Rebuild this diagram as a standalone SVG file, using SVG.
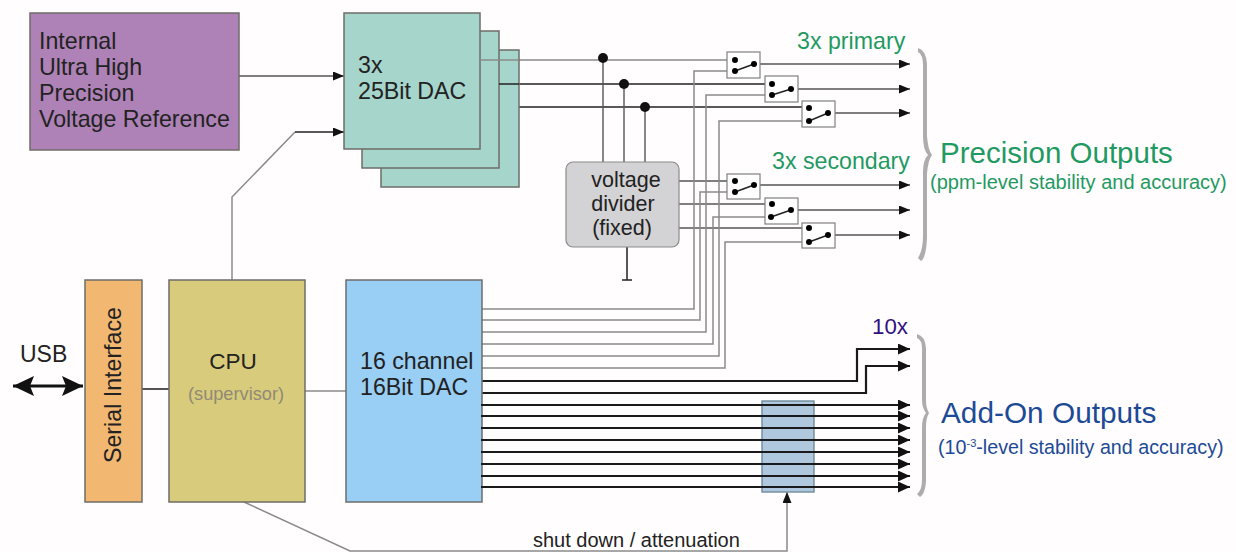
<svg xmlns="http://www.w3.org/2000/svg" width="1236" height="552" viewBox="0 0 1236 552">
<style>
text{font-family:"Liberation Sans",Arial,sans-serif;fill:#222}
.box{stroke:#6f6c68;stroke-width:1.5}
.n{font-size:23.2px}
.sw{fill:#fff;stroke:#808080;stroke-width:1.2}
.w{fill:none;stroke:#555;stroke-width:1.4}
.g{fill:none;stroke:#8a8a8a;stroke-width:1.5}
.k{fill:none;stroke:#222;stroke-width:1.5}
.t{fill:none;stroke:#1a1a1a;stroke-width:2.2}
.a{marker-end:url(#ah)}
.b{marker-end:url(#ah2)}
.gr{fill:#1f9a62}
.bl{fill:#1d4a96}
.br{fill:#adadad;stroke:none}
</style>
<defs>
<marker id="ah" markerUnits="userSpaceOnUse" markerWidth="14" markerHeight="12" refX="11" refY="4.5" orient="auto"><path d="M0 0L11 4.5L0 9Z" fill="#111"/></marker>
<marker id="ah2" markerUnits="userSpaceOnUse" markerWidth="14" markerHeight="14" refX="12" refY="5.5" orient="auto"><path d="M0 0L12 5.5L0 11Z" fill="#111"/></marker>
<marker id="big" markerUnits="userSpaceOnUse" markerWidth="22" markerHeight="22" refX="21" refY="10" orient="auto-start-reverse"><path d="M0 0L21 10L0 20L4 10Z" fill="#111"/></marker>
</defs>
<rect width="1236" height="552" fill="#fffdfe"/>

<g id="connectors">
<path class="w a" d="M239 76H344"/>
<path class="g" d="M232 280V197L295 132"/>
<path class="k a" d="M295 132H344" stroke-width="1.2"/>
<path d="M13 386H83" fill="none" stroke="#111" stroke-width="3.2" marker-start="url(#big)" marker-end="url(#big)"/>
<path d="M142 389H169" fill="none" stroke="#555" stroke-width="2"/>
<path class="g" d="M305 391H346"/>
<path class="g a" d="M244 502L350 551H787V492"/>

<path class="g" d="M480 60H727"/>
<path class="k" d="M499 84H765"/>
<path class="k" d="M519 107H802"/>
<path class="w" d="M603 58V162M624 84V162M645 107V162"/>
<path class="w" d="M679 181H727M679 204H765M679 228H802"/>
<path class="k" d="M627 247V280M622 280H632"/>

<g class="g">
<path d="M481 309H694V71H735"/>
<path d="M481 320H700V192H735"/>
<path d="M481 332H706V95H771"/>
<path d="M481 344H713V217H771"/>
<path d="M481 356H719V121H809"/>
<path d="M481 368H725V242H809"/>
</g>

<path class="w a" d="M754 64H910"/>
<path class="w a" d="M791 89H910"/>
<path class="w a" d="M828 113H910"/>
<path class="w a" d="M754 185H910"/>
<path class="w a" d="M791 210H910"/>
<path class="w a" d="M828 235H910"/>

<path class="t b" d="M481 381H857V349H910"/>
<path class="t b" d="M481 393H866V366H910"/>
</g>

<g id="reference"><rect class="box" x="30" y="13" width="209" height="137" fill="#ae82b6"/>
<text class="n" x="39" y="49">Internal</text><text class="n" x="39" y="75">Ultra High</text><text class="n" x="39" y="101">Precision</text><text class="n" x="39" y="127">Voltage Reference</text></g>

<g id="dac25">
<rect class="box" x="381" y="50" width="138" height="137" fill="#a6d5cc"/>
<rect class="box" x="362" y="31" width="137" height="137" fill="#a6d5cc"/>
<rect class="box" x="344" y="13" width="136" height="136" fill="#a6d5cc"/>
<text class="n" x="358" y="73">3x</text><text class="n" x="358" y="99">25Bit DAC</text></g>

<g id="dac-lines"><path class="g" d="M480 60H519"/><path class="k" d="M499 84H519"/>
<circle cx="603" cy="58" r="5" fill="#111"/><circle cx="624" cy="84" r="5" fill="#111"/><circle cx="645" cy="107" r="5" fill="#111"/></g>

<g id="divider"><rect x="566" y="162" width="113" height="85" rx="7" fill="#d3d2d4" stroke="#8b8b8b" stroke-width="1.2"/>
<text x="626" y="187" font-size="21.5" text-anchor="middle">voltage</text><text x="623" y="211" font-size="21.5" text-anchor="middle">divider</text><text x="622" y="235" font-size="21.5" text-anchor="middle">(fixed)</text></g>

<g id="sw1"><rect class="sw" x="727" y="52" width="33" height="26"/><path class="k" d="M735 71L754 64" stroke-width="1"/><circle cx="735" cy="60" r="3"/><circle cx="735" cy="71" r="3"/><circle cx="754" cy="64" r="3"/></g>
<g id="sw2"><rect class="sw" x="765" y="76" width="33" height="26"/><path class="k" d="M772 95L791 89" stroke-width="1"/><circle cx="772" cy="84" r="3"/><circle cx="772" cy="95" r="3"/><circle cx="791" cy="89" r="3"/></g>
<g id="sw3"><rect class="sw" x="802" y="101" width="33" height="26"/><path class="k" d="M809 121L828 113" stroke-width="1"/><circle cx="809" cy="108" r="3"/><circle cx="809" cy="121" r="3"/><circle cx="828" cy="113" r="3"/></g>
<g id="sw4"><rect class="sw" x="727" y="174" width="33" height="25"/><path class="k" d="M735 192L754 185" stroke-width="1"/><circle cx="735" cy="181" r="3"/><circle cx="735" cy="192" r="3"/><circle cx="754" cy="185" r="3"/></g>
<g id="sw5"><rect class="sw" x="765" y="198" width="33" height="26"/><path class="k" d="M771 217L791 210" stroke-width="1"/><circle cx="772" cy="204" r="3"/><circle cx="771" cy="217" r="3"/><circle cx="791" cy="210" r="3"/></g>
<g id="sw6"><rect class="sw" x="802" y="223" width="33" height="25"/><path class="k" d="M809 242L828 235" stroke-width="1"/><circle cx="809" cy="228" r="3"/><circle cx="809" cy="242" r="3"/><circle cx="828" cy="235" r="3"/></g>

<g id="serial"><rect class="box" x="85" y="280" width="57" height="222" fill="#f2b872"/>
<text class="n" transform="translate(121 463) rotate(-90)">Serial Interface</text></g>
<g id="cpu"><rect class="box" x="169" y="280" width="136" height="222" fill="#d9cb7c"/>
<text x="233" y="369" text-anchor="middle" font-size="22.5">CPU</text><text x="236" y="400" text-anchor="middle" font-size="18.2" style="fill:#8f8a74">(supervisor)</text></g>
<g id="dac16"><rect class="box" x="346" y="280" width="136" height="222" fill="#99cef5"/>
<text class="n" x="360" y="369">16 channel</text><text class="n" x="360" y="395">16Bit DAC</text></g>

<g id="attenuator"><rect x="762" y="401" width="52" height="91" fill="#b0c8de" stroke="#6f8a9c" stroke-width="1.4"/></g>
<g id="addon-lines">
<path class="t b" d="M481 405H910"/><path class="t b" d="M481 416H910"/><path class="t b" d="M481 428H910"/><path class="t b" d="M481 440H910"/><path class="t b" d="M481 452H910"/><path class="t b" d="M481 464H910"/><path class="t b" d="M481 476H910"/><path class="t b" d="M481 487H910"/>
</g>

<g id="braces">
<path class="br" d="M918 48Q926 50 927 64V136Q928 150 932 155Q928 160 927 174V238Q926 258 921 261L918 258Q923 250 923 236V172Q923 160 928 155Q923 150 923 136V66Q923 54 918 52Z"/>
<path class="br" d="M917 334Q925 336 926 348V400Q926 408 929 413Q926 418 926 427V482Q925 494 920 497L917 494Q922 490 922 480V427Q922 418 926 413Q922 408 922 400V348Q922 340 917 338Z"/>
</g>

<g id="labels">
<text class="gr" x="797" y="49" font-size="23.2">3x primary</text>
<text class="gr" x="772" y="169" font-size="23.2">3x secondary</text>
<text class="gr" x="940" y="163" font-size="29.5">Precision Outputs</text>
<text class="gr" x="930" y="189" font-size="20">(ppm-level stability and accuracy)</text>
<text x="872" y="334" font-size="22.3" style="fill:#30107f">10x</text>
<text class="bl" x="941" y="423" font-size="29.8">Add-On Outputs</text>
<text class="bl" x="938" y="454" font-size="19.7">(10<tspan font-size="11" dy="-7">-3</tspan><tspan dy="7">-level stability and accuracy)</tspan></text>
<text x="20" y="362" font-size="23">USB</text>
<text x="533" y="547" font-size="20">shut down / attenuation</text>
</g>
</svg>
